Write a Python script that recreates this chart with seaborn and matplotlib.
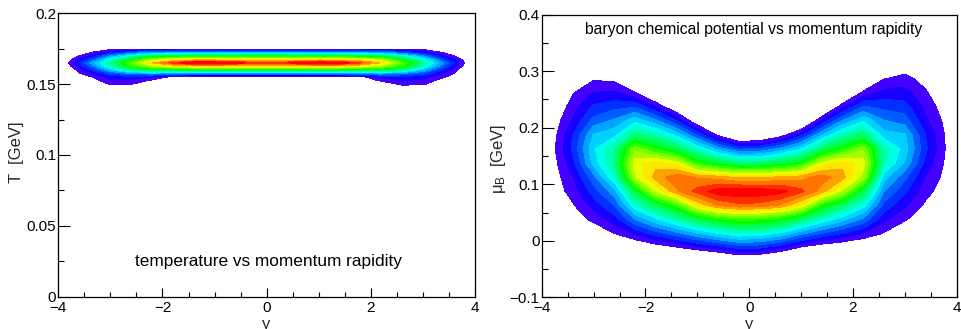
import colorsys
import numpy as np
import matplotlib
matplotlib.use("Agg")
import matplotlib.pyplot as plt
from matplotlib.ticker import MultipleLocator
import seaborn as sns

# ---------------- data ----------------
rapidity = [-4.2, -3.8, -3.4, -3.0, -2.6, -2.2, -1.8, -1.4, -1.0, -0.6, -0.2,
            0.2, 0.6, 1.0, 1.4, 1.8, 2.2, 2.6, 3.0, 3.4, 3.8, 4.2]

# temperature grid (GeV) and density level per rapidity column (bottom -> top)
temperature = [0.1475, 0.150, 0.1525, 0.155, 0.1575, 0.160, 0.1625, 0.165,
               0.1675, 0.170, 0.1725, 0.175, 0.1775]
t_columns = [
    [0, 0, 0, 0, 0, 0, 0, 0, 0, 0, 0, 0, 0],
    [0, 0, 0, 0, 0, 0, 0.6, 1.02, 0.6, 0, 0, 0, 0],
    [0, 0, 0.3, 0.8, 1.8, 2.8, 4, 5, 3.5, 2, 0.8, 0, 0],
    [0, 1.1, 1.8, 2.4, 3.8, 6, 8, 9, 7.5, 5, 2.5, 0.6, 0],
    [0, 1.05, 1.8, 2.5, 5, 9, 12, 13, 11, 7.5, 4, 0.7, 0],
    [0, 0, 0.8, 2, 5.5, 10, 14, 17, 14, 9.5, 5, 0.6, 0],
    [0, 0, 0, 0.6, 5, 10, 15.5, 19.5, 15.5, 10, 5, 0.3, 0],
    [0, 0, 0, 0, 5, 10.5, 16, 21.5, 16, 10.5, 5, 0, 0],
    [0, 0, 0, 0, 5, 10.5, 16, 21.5, 16, 10.5, 5, 0, 0],
    [0, 0, 0, 0, 5, 10.5, 16, 20.5, 16, 10.5, 5, 0, 0],
    [0, 0, 0, 0, 5, 10.5, 16, 19.6, 16, 10.5, 5, 0, 0],
    [0, 0, 0, 0, 5, 10.5, 16, 19.6, 16, 10.5, 5, 0, 0],
    [0, 0, 0, 0, 5, 10.5, 16, 20.5, 16, 10.5, 5, 0, 0],
    [0, 0, 0, 0, 5, 10.5, 16, 21.5, 16, 10.5, 5, 0, 0],
    [0, 0, 0, 0, 5, 10.5, 16, 21, 16, 10.5, 5, 0, 0],
    [0, 0, 0, 0.6, 5, 10, 15.5, 19.2, 15.5, 10, 5, 0.3, 0],
    [0, 0, 1.2, 2.2, 5.5, 10, 14, 16.8, 14, 9.5, 5, 0.6, 0],
    [0.2, 1.3, 2, 2.6, 5, 9, 12, 13, 11, 7.5, 4, 0.7, 0],
    [0.1, 1.2, 1.8, 2.4, 3.8, 6, 8, 9, 7.5, 5, 2.5, 0.6, 0],
    [0, 0, 0.4, 1.1, 2, 2.8, 4, 5, 3.5, 2, 0.8, 0, 0],
    [0, 0, 0, 0, 0, 0, 0.6, 1.02, 0.6, 0, 0, 0, 0],
    [0, 0, 0, 0, 0, 0, 0, 0, 0, 0, 0, 0, 0],
]

# baryon chemical potential grid (GeV) and density level per rapidity column
mu_b = [-0.0375, -0.0125, 0.0125, 0.0375, 0.0625, 0.0875, 0.1125, 0.1375,
        0.1625, 0.1875, 0.2125, 0.2375, 0.2625, 0.2875, 0.3125]
mu_columns = [
    [-1, -1, -1, -1, -1, -1, -1, -1, -1, -1, -1, -1, -1, -1, -1],
    [-1, -1, -1, -0.8, -0.3, 0.3, 0.3, 0.4, 0.6, 0.4, 0.2, -0.2, -0.6, -1, -1],
    [-1.3, -0.7, -0.2, 0.34, 0.88, 1.42, 1.96, 2.7, 3.2, 3.0, 2.14, 1.51, 0.89, 0.26, -0.4],
    [-2.15, -1.02, 0.12, 1.25, 2.38, 3.51, 4.65, 6.36, 6.8, 6.09, 4.34, 3.17, 2.0, 0.83, -0.34],
    [-2.09, -0.56, 0.97, 2.5, 4.03, 5.56, 7.91, 9.2, 9.0, 6.72, 5.19, 3.66, 2.13, 0.6, -0.93],
    [-3, -0.62, 2.17, 4.96, 7.75, 10.53, 14.78, 15.6, 13.75, 9.48, 6.67, 3.86, 1.06, -1.75, -3],
    [-3, 0.13, 3.46, 6.79, 10.11, 15.09, 17.5, 16.62, 11.72, 8.47, 5.22, 1.97, -1.28, -3, -3],
    [-3, 0.77, 4.6, 8.42, 12.25, 17.83, 18.6, 15.57, 10.23, 6.65, 3.07, -0.5, -3, -3, -3],
    [-2.66, 1.6, 5.86, 10.12, 16.22, 19.4, 17.9, 11.99, 7.92, 3.85, -0.22, -3, -3, -3, -3],
    [-2.21, 2.37, 6.95, 11.53, 18.07, 20.6, 17.51, 10.6, 5.65, 0.7, -3, -3, -3, -3, -3],
    [-1.25, 3.25, 7.75, 12.25, 18.73, 20.8, 16.8, 9.38, 3.94, -1.5, -3, -3, -3, -3, -3],
    [-1.44, 3.08, 7.6, 12.11, 18.6, 20.7, 16.78, 9.46, 4.1, -1.25, -3, -3, -3, -3, -3],
    [-2.39, 2.19, 6.76, 11.34, 17.85, 20.4, 17.24, 10.3, 5.3, 0.3, -3, -3, -3, -3, -3],
    [-3, 0.73, 5.18, 9.62, 15.89, 19.3, 17.56, 11.37, 7.01, 2.66, -1.7, -3, -3, -3, -3],
    [-3, -0.03, 3.92, 7.86, 11.8, 17.5, 18.5, 15.3, 9.75, 5.94, 2.14, -1.67, -3, -3, -3],
    [-3, -0.41, 2.95, 6.31, 9.67, 14.67, 17.4, 16.71, 11.73, 8.4, 5.07, 1.73, -1.6, -3, -3],
    [-3, -0.83, 1.94, 4.71, 7.48, 10.24, 14.46, 15.5, 13.88, 9.65, 6.86, 4.07, 1.28, -1.51, -3],
    [-1.92, -0.53, 0.86, 2.25, 3.64, 5.03, 6.42, 8.3, 8.5, 6.43, 5.06, 3.68, 2.31, 0.93, -0.44],
    [-2.07, -1.01, 0.05, 1.11, 2.16, 3.22, 4.28, 5.89, 6.5, 6.1, 4.49, 3.43, 2.37, 1.32, 0.26],
    [-1.5, -0.89, -0.33, 0.23, 0.79, 1.35, 1.91, 2.7, 3.2, 3.0, 2.25, 1.69, 1.13, 0.57, 0.01],
    [-1, -1, -1, -0.5, 0, 0.42, 0.61, 0.74, 0.88, 0.8, 0.64, 0.31, 0, -0.5, -1],
    [-1, -1, -1, -1, -1, -1, -1, -1, -1, -1, -1, -1, -1, -1, -1],
]

x_ticks = [-4, -2, 0, 2, 4]
x_tick_labels = ["\u22124", "\u22122", "0", "2", "4"]
t_ticks = [0, 0.05, 0.1, 0.15, 0.2]
t_tick_labels = ["0", "0.05", "0.1", "0.15", "0.2"]
mu_ticks = [-0.1, 0, 0.1, 0.2, 0.3, 0.4]
mu_tick_labels = ["\u22120.1", "0", "0.1", "0.2", "0.3", "0.4"]

left_title = "temperature vs momentum rapidity"
right_title = "baryon chemical potential vs momentum rapidity"

# ---------------- style ----------------
sns.set_theme(style="white")
plt.rcParams["font.family"] = ["Liberation Sans", "DejaVu Sans"]
plt.rcParams["mathtext.fontset"] = "custom"
plt.rcParams["mathtext.rm"] = "Liberation Sans"
plt.rcParams["mathtext.it"] = "Liberation Sans"
plt.rcParams["mathtext.bf"] = "Liberation Sans"

# rainbow palette in the ROOT style (blue-violet -> red), 20 contour bands
n_pal, n_lev = 50, 20
band_colors = []
for k in range(n_lev):
    i = int((k + 0.99) * n_pal / n_lev)
    hue = (280.0 - (i + 1) * 280.0 / n_pal) * 0.973
    band_colors.append(colorsys.hls_to_rgb(hue / 360.0, 0.5, 1.0))
levels = list(range(1, 21)) + [100]

fig = plt.figure(figsize=(9.62, 3.29), dpi=100)
fig.patch.set_facecolor("white")
ax1 = fig.add_axes([0.0606, 0.0982, 0.4332, 0.8614])
ax2 = fig.add_axes([0.5631, 0.0964, 0.4314, 0.8589])

ax1.contourf(rapidity, temperature, np.array(t_columns).T, levels=levels, colors=band_colors)
ax2.contourf(rapidity, mu_b, np.array(mu_columns).T, levels=levels, colors=band_colors)

def style_axes(ax, yticks, ylabels, ylim, yminor):
    ax.set_xlim(-4, 4)
    ax.set_ylim(*ylim)
    ax.set_facecolor("white")
    ax.grid(False)
    for s in ax.spines.values():
        s.set_visible(True)
        s.set_color("black")
        s.set_linewidth(0.9)
    ax.set_xticks(x_ticks)
    ax.set_xticklabels(x_tick_labels)
    ax.set_yticks(yticks)
    ax.set_yticklabels(ylabels)
    ax.xaxis.set_minor_locator(MultipleLocator(0.5))
    ax.yaxis.set_minor_locator(MultipleLocator(yminor))
    ax.tick_params(axis="both", which="both", direction="in", top=False, right=False,
                   bottom=True, left=True, colors="black", labelsize=11, width=0.8)
    ax.tick_params(axis="x", which="major", length=6.5, pad=3)
    ax.tick_params(axis="x", which="minor", length=3.3)
    ax.tick_params(axis="y", which="major", length=8.6, pad=1.5)
    ax.tick_params(axis="y", which="minor", length=4.3)

style_axes(ax1, t_ticks, t_tick_labels, (0, 0.2), 0.025)
style_axes(ax2, mu_ticks, mu_tick_labels, (-0.1, 0.4), 0.05)

ax1.set_ylabel("T  [GeV]", fontsize=12, va="center")
ax1.yaxis.set_label_coords(-0.100, 0.51)
ax2.set_ylabel(r"$\mu_{B}$  [GeV]", fontsize=12, va="center")
ax2.yaxis.set_label_coords(-0.105, 0.49)
ax1.set_xlabel("y", fontsize=12, va="baseline")
ax1.xaxis.set_label_coords(0.5, -0.113)
ax2.set_xlabel("y", fontsize=12, va="baseline")
ax2.xaxis.set_label_coords(0.5, -0.111)

ax1.text(0.505, 0.1225, left_title, transform=ax1.transAxes, ha="center", va="center",
         fontsize=12.4, color="black")
ax2.text(0.51, 0.946, right_title, transform=ax2.transAxes, ha="center", va="center",
         fontsize=11.3, color="black")

fig.savefig("out.png", dpi=100, facecolor="white")
